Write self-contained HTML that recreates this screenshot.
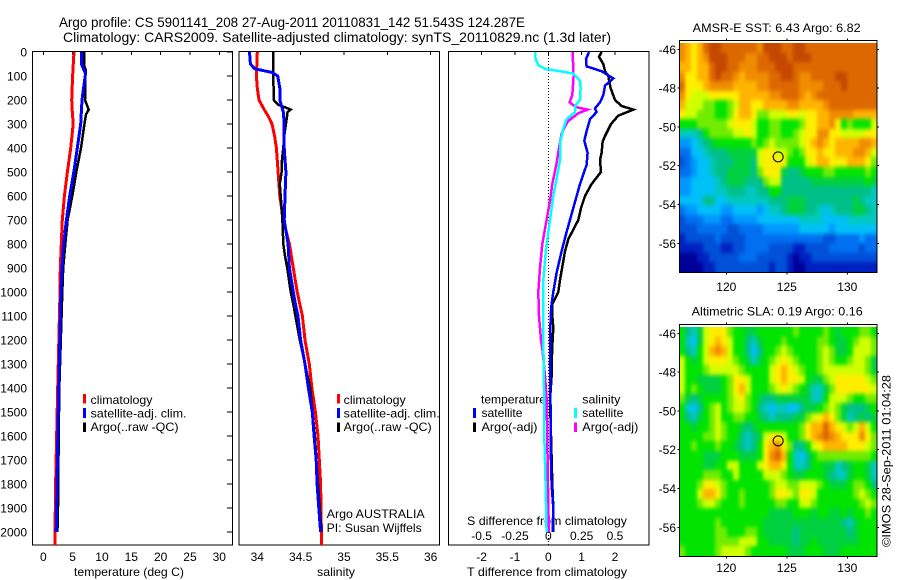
<!DOCTYPE html>
<html>
<head>
<meta charset="utf-8">
<title>Argo profile</title>
<style>
html,body{margin:0;padding:0;background:#fff}
svg{display:block}
text{font-family:"Liberation Sans",sans-serif;font-size:12px;fill:#000}
</style>
</head>
<body>
<svg id="chart" xmlns="http://www.w3.org/2000/svg" width="900" height="580" viewBox="0 0 900 580">
<defs>
<filter id="mapBlur" filterUnits="userSpaceOnUse" x="650" y="0" width="250" height="580" color-interpolation-filters="sRGB">
<feGaussianBlur stdDeviation="1.7 2"/>
</filter>
</defs>
<rect width="900" height="580" fill="#fff"/>
<text x="59" y="27" style="font-size:14px" textLength="466" lengthAdjust="spacingAndGlyphs">Argo profile: CS 5901141_208 27-Aug-2011 20110831_142 51.543S 124.287E</text>
<text x="63" y="42" style="font-size:14px" textLength="548" lengthAdjust="spacingAndGlyphs">Climatology: CARS2009. Satellite-adjusted climatology: synTS_20110829.nc (1.3d later)</text>

<text x="74" y="576" textLength="110" lengthAdjust="spacingAndGlyphs">temperature (deg C)</text>
<text x="317" y="576" textLength="38" lengthAdjust="spacingAndGlyphs">salinity</text>
<text x="467" y="576" textLength="160" lengthAdjust="spacingAndGlyphs">T difference from climatology</text>
<text x="467" y="525" textLength="160" lengthAdjust="spacingAndGlyphs">S difference from climatology</text>

<g>
<rect x="83" y="394" width="3" height="9.5" fill="#f00"/>
<rect x="83" y="408" width="3" height="10" fill="#00f"/>
<rect x="83" y="422.5" width="3" height="9.5" fill="#000"/>
<text x="90.5" y="404" textLength="62" lengthAdjust="spacingAndGlyphs">climatology</text>
<text x="90.5" y="417.5" textLength="96" lengthAdjust="spacingAndGlyphs">satellite-adj. clim.</text>
<text x="90.5" y="431" textLength="88" lengthAdjust="spacingAndGlyphs">Argo(..raw -QC)</text>
</g>
<g>
<rect x="337" y="394" width="3" height="9.5" fill="#f00"/>
<rect x="337" y="408" width="3" height="10" fill="#00f"/>
<rect x="337" y="422.5" width="3" height="9.5" fill="#000"/>
<text x="343.7" y="404" textLength="62" lengthAdjust="spacingAndGlyphs">climatology</text>
<text x="343.7" y="417.5" textLength="96" lengthAdjust="spacingAndGlyphs">satellite-adj. clim.</text>
<text x="343.7" y="431" textLength="88" lengthAdjust="spacingAndGlyphs">Argo(..raw -QC)</text>
</g>
<text x="326.7" y="518" textLength="98" lengthAdjust="spacingAndGlyphs">Argo AUSTRALIA</text>
<text x="326.7" y="532" textLength="95" lengthAdjust="spacingAndGlyphs">PI: Susan Wijffels</text>

<g>
<text x="481" y="403.5" textLength="65" lengthAdjust="spacingAndGlyphs">temperature</text>
<rect x="473" y="408" width="3" height="10" fill="#00f"/>
<text x="481.5" y="417" textLength="41" lengthAdjust="spacingAndGlyphs">satellite</text>
<rect x="473" y="422.5" width="3" height="9.5" fill="#000"/>
<text x="481.5" y="431" textLength="56" lengthAdjust="spacingAndGlyphs">Argo(-adj)</text>
<text x="582.3" y="403.5" textLength="38" lengthAdjust="spacingAndGlyphs">salinity</text>
<rect x="574" y="408" width="3" height="10" fill="#0ff"/>
<text x="582.3" y="417" textLength="41" lengthAdjust="spacingAndGlyphs">satellite</text>
<rect x="574" y="422.5" width="3" height="9.5" fill="#f0f"/>
<text x="582.3" y="431" textLength="56" lengthAdjust="spacingAndGlyphs">Argo(-adj)</text>
</g>

<text x="692.7" y="32" textLength="168" lengthAdjust="spacingAndGlyphs">AMSR-E SST: 6.43 Argo: 6.82</text>
<text x="691.7" y="315.5" textLength="171" lengthAdjust="spacingAndGlyphs">Altimetric SLA: 0.19 Argo: 0.16</text>
<text transform="translate(890.5,547) rotate(-90)" textLength="172" lengthAdjust="spacingAndGlyphs">©IMOS 28-Sep-2011 01:04:28</text>
</svg>

<script>
// ---------- Profile data ----------
const depthTicks = [0,100,200,300,400,500,600,700,800,900,1000,1100,1200,1300,1400,1500,1600,1700,1800,1900,2000];
const tempTicks = [0,5,10,15,20,25,30];
const salTicks = [34,34.5,35,35.5,36];
const salTickLabels = ['34','34.5','35','35.5','36'];
const tDiffTicks = [-2,-1,0,1,2];
const tDiffTickLabels = ['-2','-1','0','1','2'];
const sDiffTicks = [-0.5,-0.25,0,0.25,0.5];
const sDiffTickLabels = ['-0.5','-0.25','0','0.25','0.5'];

const tempClimDepth = [0,100,200,250,300,400,500,600,700,800,900,1000,1400,1800,2000,2054];
const tempClimValue = [5.23,5.0,4.84,4.95,5.1,4.67,4.1,3.6,3.24,3.07,2.9,2.85,2.45,2.1,2.0,2.0];
const tempArgoDepth = [0,60,75,100,200,240,260,300,400,500,600,700,800,900,1000,1400,1600,1900,2000];
const tempArgoValue = [7.0,7.0,7.25,7.17,7.1,7.73,7.28,7.0,6.43,5.63,4.95,4.15,3.75,3.4,3.24,2.73,2.62,2.5,2.4];
const tempSatDepth = [0,50,90,100,200,300,400,500,600,700,800,900,1000,1400,1700,2000];
const tempSatValue = [6.5,6.5,7.2,7.15,6.6,6.37,5.8,5.2,4.5,3.93,3.47,3.19,3.0,2.62,2.4,2.2];

const salClimDepth = [0,100,150,200,240,270,300,350,400,500,600,700,800,900,1000,1050,1100,1200,1300,1400,1500,1600,1700,1800,1900,2000,2054];
const salClimValue = [34.0,33.99,34.0,34.02,34.08,34.13,34.17,34.2,34.22,34.24,34.26,34.3,34.37,34.415,34.46,34.49,34.52,34.55,34.6,34.63,34.67,34.7,34.715,34.73,34.735,34.74,34.74];
const salArgoDepth = [0,100,200,220,230,240,250,300,350,400,450,500,550,600,700,800,850,900,1000,1050,1100,1200,1300,1400,1600,1800,2000];
const salArgoValue = [34.185,34.185,34.19,34.24,34.32,34.385,34.35,34.33,34.31,34.3,34.285,34.28,34.26,34.27,34.29,34.3,34.32,34.345,34.385,34.415,34.44,34.49,34.55,34.61,34.665,34.7,34.74];
const salSatDepth = [0,50,70,85,100,150,200,250,300,400,500,600,700,800,900,1000,1050,1100,1200,1300,1400,1500,1600,1700,1800,1900,2000];
const salSatValue = [33.91,33.92,33.97,34.17,34.235,34.26,34.26,34.3,34.31,34.31,34.33,34.32,34.31,34.355,34.37,34.415,34.44,34.47,34.5,34.55,34.59,34.635,34.655,34.68,34.69,34.71,34.73];

const tDiffArgoDepth = [0,20,50,80,100,150,200,225,240,265,300,350,375,420,450,500,550,600,650,700,780,830,950,1000,1050,1100,1150,1200,1300,1350,1450,1600,1800,1900,2000];
const tDiffArgoValue = [1.6,1.52,1.65,1.7,1.8,1.87,2.0,2.2,2.55,2.1,1.88,1.7,1.63,1.6,1.55,1.58,1.3,1.1,0.98,0.9,0.6,0.5,0.35,0.3,0.12,0.12,0.15,0.13,0.1,0.1,0.05,0.08,0.12,0.15,0.15];
const tDiffSatDepth = [0,30,60,80,110,140,180,210,235,250,280,330,370,420,470,550,650,750,830,920,1000,1050,1100,1300,1500,1700,1800,1900,2000];
const tDiffSatValue = [1.22,1.13,1.15,1.6,1.95,1.7,1.65,1.55,1.4,1.45,1.25,1.15,1.08,1.18,1.15,0.95,0.75,0.55,0.4,0.25,0.15,0.1,0.07,0.05,0.07,0.08,0.1,0.15,0.13];
const sDiffArgoDepth = [0,100,180,210,230,240,255,290,340,400,470,550,620,700,800,900,1000,1100,1200,1250,1350,1450,1700,1900,2000];
const sDiffArgoValue = [0.1825,0.19,0.18,0.16,0.21,0.295,0.225,0.145,0.1,0.08,0.06,0.03,0.0125,-0.0125,-0.045,-0.0625,-0.075,-0.07,-0.055,-0.042,-0.025,-0.012,-0.005,0,0.005];
const sDiffSatDepth = [0,30,55,70,80,90,120,150,200,225,250,280,320,380,450,530,600,700,820,950,1000,1200,1400,1600,1800,2000];
const sDiffSatValue = [-0.1,-0.095,-0.075,-0.025,0.0875,0.1875,0.2375,0.2425,0.2375,0.2,0.2,0.1375,0.1125,0.0875,0.0875,0.0625,0.0375,0.0125,-0.0175,-0.0375,-0.0375,-0.0375,-0.0325,-0.03,-0.02,-0.0125];

// ---------- Map data (colour-scale levels, read by eye, north at top) ----------
const mapLonTicks = [120,125,130];
const mapLatTicks = [46,48,50,52,54,56];
const sstLevels = [
[14,13,12,13,15,16,16,15,15,15,15,15,15,14,16,16,16,15,15,16,16,15,15,15,15,15,15,15,15,15,15,15,15],
[14,13,12,13,14,16,16,16,15,15,15,14,14,15,15,16,16,16,15,16,16,16,15,15,15,15,15,15,15,15,15,15,15],
[13,13,12,13,13,15,16,16,15,15,14,14,14,15,15,15,16,16,16,15,15,15,15,15,15,15,15,15,15,15,15,15,15],
[14,12,12,13,13,15,16,15,15,14,13,14,14,14,14,15,15,16,16,15,14,14,15,15,15,15,16,16,15,15,15,15,15],
[15,12,12,12,13,14,14,14,14,13,13,13,13,14,14,15,15,15,15,15,14,14,14,14,15,15,15,16,15,15,15,15,15],
[14,12,11,11,11,12,12,12,12,12,13,13,13,13,13,14,14,15,15,15,14,13,14,15,15,15,15,15,15,15,15,15,15],
[13,11,11,11,10,10,9,9,10,11,13,13,12,12,13,13,13,13,14,14,13,13,13,13,14,15,15,15,15,15,15,15,15],
[12,11,11,10,10,10,9,9,10,12,13,13,12,10,10,11,11,11,12,12,11,12,12,13,13,14,14,14,14,13,13,13,13],
[9,9,9,10,10,10,10,10,11,12,12,12,11,9,9,10,10,9,9,9,10,12,12,13,13,14,12,9,10,9,9,9,11],
[6,6,6,7,9,10,10,10,10,11,11,12,11,9,9,10,10,9,9,10,11,12,12,14,14,12,12,11,11,11,11,12,12],
[4,4,5,6,7,8,9,9,9,9,9,9,10,9,10,11,10,10,10,10,11,12,13,14,13,12,13,13,13,13,14,14,13],
[3,3,5,5,6,7,7,7,8,8,8,8,8,11,12,12,11,11,10,9,10,12,12,13,12,12,13,13,13,14,14,13,11],
[2,3,4,5,5,6,7,7,7,8,8,8,7,11,12,12,12,12,9,9,9,11,12,13,13,12,12,12,13,13,13,12,10],
[3,3,4,5,5,6,7,7,8,8,8,8,7,10,12,12,12,8,7,7,8,9,9,9,10,10,9,9,9,9,9,10,9],
[4,4,5,5,5,5,6,7,8,8,8,7,7,7,10,11,11,7,7,7,7,7,8,8,8,8,8,8,8,8,8,9,8],
[4,4,5,5,5,5,6,6,7,7,7,6,6,7,7,9,9,7,7,7,7,7,7,7,7,7,7,7,7,7,7,7,6],
[5,5,5,5,7,7,5,5,6,6,6,6,6,6,6,7,7,7,8,8,8,7,7,7,7,7,7,7,7,8,7,6,6],
[3,4,4,5,5,5,5,4,4,5,5,5,5,4,5,6,6,7,8,8,8,7,7,6,5,6,7,7,7,8,8,7,6],
[2,3,3,3,4,4,4,3,3,4,4,4,4,5,5,5,5,5,5,5,6,6,6,6,5,5,5,5,6,6,6,6,6],
[2,2,2,3,3,3,3,3,2,2,3,3,3,3,4,4,4,4,4,4,5,5,5,5,5,4,5,5,5,5,5,5,5],
[1,2,2,2,2,2,3,2,2,2,2,3,3,3,3,3,3,3,3,3,3,3,3,3,2,2,3,3,3,3,4,3,3],
[1,1,1,1,2,2,2,1,1,2,2,3,3,3,3,2,2,2,2,1,1,2,2,2,2,3,3,3,3,3,2,3,3],
[0,0,0,1,1,2,2,2,2,2,3,3,3,2,2,2,2,2,1,0,1,1,2,2,2,2,2,2,2,2,2,2,2],
[0,0,0,0,1,1,2,2,2,2,2,2,2,2,2,1,2,2,1,0,0,1,1,1,1,1,1,1,1,1,1,1,1]
];
const slaLevels = [
[9,7,6,8,11,12,12,12,10,9,9,8,8,9,9,9,9,9,9,10,9,9,9,9,10,9,8,9,9,9,10,10,9],
[9,6,5,8,11,12,13,12,11,9,9,7,6,8,9,9,9,10,9,9,9,9,9,10,10,9,8,8,9,10,11,11,10],
[9,7,6,9,11,13,14,13,11,9,9,7,5,7,9,9,10,11,10,9,9,9,9,10,11,10,8,8,9,11,11,11,10],
[11,9,8,9,11,12,12,12,11,10,9,8,6,8,9,10,11,12,11,10,9,9,9,10,11,10,9,9,10,11,11,10,8],
[11,9,9,9,10,11,11,11,11,11,10,9,9,9,9,11,12,13,12,11,10,9,9,10,11,11,11,11,11,11,11,10,8],
[11,9,9,8,8,8,8,9,10,12,12,11,9,9,9,11,12,13,12,12,11,9,8,8,10,11,12,12,12,12,12,11,10],
[11,9,10,9,8,8,8,9,10,12,13,11,9,9,9,10,11,12,11,10,9,8,6,6,8,10,12,12,12,12,12,12,11],
[10,8,7,8,9,9,9,9,10,11,12,10,9,8,7,7,8,8,8,8,8,8,6,6,9,11,11,11,10,9,9,10,10],
[9,6,5,7,9,10,11,9,10,11,11,10,9,7,6,5,6,6,5,5,7,8,8,9,10,11,10,8,7,7,7,8,9],
[9,7,6,8,9,10,11,9,9,10,10,9,9,8,7,6,7,7,7,8,8,10,11,12,13,12,10,8,6,7,8,7,8],
[9,9,8,9,9,10,11,10,9,9,8,7,8,9,9,9,9,9,9,9,10,12,13,13,15,13,12,11,10,11,13,11,9],
[9,9,9,9,10,10,11,10,9,9,7,6,7,8,11,12,12,11,9,9,10,12,13,14,15,14,13,12,12,12,14,12,10],
[9,9,10,9,9,9,10,9,9,8,7,6,7,9,12,13,14,12,10,7,7,9,11,12,13,13,13,13,12,12,12,11,10],
[9,9,9,9,8,8,8,9,9,9,8,8,8,9,12,14,15,13,9,6,5,7,9,10,10,10,10,10,10,10,10,10,9],
[9,9,9,9,8,8,9,9,11,11,9,9,9,11,12,13,13,12,9,6,6,7,9,9,8,8,6,7,8,9,9,8,6],
[9,9,9,9,10,10,10,9,9,11,9,9,9,9,11,11,11,10,9,8,8,9,9,9,8,7,6,6,8,9,9,8,6],
[9,9,9,10,12,12,11,10,9,9,9,9,9,9,9,10,11,11,10,10,11,11,11,10,9,8,8,8,9,10,10,9,7],
[9,9,9,11,13,13,12,10,9,9,10,9,9,9,9,10,12,12,11,10,12,12,11,9,9,9,9,9,9,10,11,10,9],
[9,9,9,10,11,11,10,9,9,9,10,9,9,9,9,9,10,10,9,9,11,11,10,9,9,9,9,9,9,9,10,11,10],
[9,9,9,9,9,9,9,9,9,9,9,9,9,9,9,8,8,8,8,9,9,9,8,9,9,8,8,9,8,9,9,10,9],
[9,9,9,9,9,9,10,9,9,9,9,9,9,9,8,8,8,8,8,8,8,8,8,8,8,8,8,7,6,8,9,9,9],
[9,9,9,9,9,9,10,10,9,9,9,10,10,9,8,8,8,8,8,7,8,8,8,8,8,8,8,8,7,8,9,9,9],
[9,9,9,9,9,9,10,10,10,10,11,11,11,9,9,8,8,8,8,7,8,8,9,8,8,8,8,8,8,8,9,9,9],
[10,9,9,9,9,9,10,11,11,11,11,10,9,9,9,9,9,9,8,8,8,9,9,9,8,8,8,9,9,9,9,9,9]
];
const floatLon = 124.287;
const floatLat = 51.543;

// ---------- Scales ----------
const levelColors = ['#000098','#0020c0','#0050d8','#0070f0','#0098ff','#00c0f8','#00c8c0','#00c088','#00d040','#00e400','#70ec00','#d0ff00','#ffee00','#ffb400','#f08c00','#de6800','#c44800'];
const NS = 'http://www.w3.org/2000/svg';
const svg = document.getElementById('chart');
const yD = d => 52 + 0.24 * d;
const xTemp = v => 43.3 + 5.867 * v;
const xSal = v => 257.3 + 86.67 * (v - 34);
const xTD = v => 548.3 + 33.33 * v;
const xSD = v => 548.3 + 133.3 * v;
const xLon = v => 726.3 + 12.1 * (v - 120);

function mk(tag, attrs, parent) {
  const e = document.createElementNS(NS, tag);
  for (const k in attrs) e.setAttribute(k, attrs[k]);
  (parent || svg).appendChild(e);
  return e;
}
function addText(parent, str, x, y, anchor) {
  const t = mk('text', {x: x, y: y, 'text-anchor': anchor || 'middle'}, parent);
  t.textContent = str;
  return t;
}

// ---------- Profile panels ----------
function drawPanel(name, left, right, ticks, xf) {
  const g = mk('g', {});
  
  
  const frame = mk('rect', {x: left, y: 51.5, width: right - left, height: 493.5, fill: 'none', stroke: '#000', 'stroke-width': 1, 'shape-rendering': 'crispEdges'}, g);
  
  
  ticks.forEach(v => {
    const t = mk('line', {x1: xf(v), x2: xf(v), y1: 52, y2: 55, stroke: '#000', 'shape-rendering': 'crispEdges'}, g);
    
    
  });
  return g;
}
function drawLine(g, name, depths, values, xf, color, width) {
  const pts = depths.map((d, i) => xf(values[i]).toFixed(1) + ',' + yD(d).toFixed(1)).join(' ');
  const l = mk('polyline', {points: pts, fill: 'none', stroke: color, 'stroke-width': width, 'stroke-linejoin': 'miter', 'shape-rendering': 'crispEdges'}, g);
  
  
}

const p1 = drawPanel('temperature', 32.5, 232.5, tempTicks, xTemp);
depthTicks.forEach(d => {
  const lab = addText(p1, String(d), 27, yD(d) + 4.5, 'end');
  
  
  const t = mk('line', {x1: 227, x2: 232, y1: yD(d), y2: yD(d), stroke: '#000', 'shape-rendering': 'crispEdges'}, p1);
  
  
});
tempTicks.forEach(v => {
  const lab = addText(p1, String(v), xTemp(v), 561);
  
  
});
drawLine(p1, 'temperature-climatology-line', tempClimDepth, tempClimValue, xTemp, '#f00', 3);
drawLine(p1, 'temperature-argo-line', tempArgoDepth, tempArgoValue, xTemp, '#000', 2.5);
drawLine(p1, 'temperature-satellite-line', tempSatDepth, tempSatValue, xTemp, '#00f', 3);

const p2 = drawPanel('salinity', 239, 439.5, salTicks, xSal);
salTicks.forEach((v, i) => {
  const lab = addText(p2, salTickLabels[i], xSal(v), 561);
  
  
});
drawLine(p2, 'salinity-climatology-line', salClimDepth, salClimValue, xSal, '#f00', 3);
drawLine(p2, 'salinity-argo-line', salArgoDepth, salArgoValue, xSal, '#000', 2.5);
drawLine(p2, 'salinity-satellite-line', salSatDepth, salSatValue, xSal, '#00f', 3);

const p3 = drawPanel('difference', 448.5, 649, tDiffTicks, xTD);
tDiffTicks.forEach((v, i) => {
  const lab = addText(p3, tDiffTickLabels[i], xTD(v), 561);
  
  
});
sDiffTicks.forEach((v, i) => {
  const lab = addText(p3, sDiffTickLabels[i], xSD(v), 540);
  
  
});
const zero = mk('line', {x1: xTD(0), x2: xTD(0), y1: 52, y2: 545, stroke: '#000', 'stroke-width': 1, 'stroke-dasharray': '1 2', 'shape-rendering': 'crispEdges'}, p3);


drawLine(p3, 't-difference-argo-line', tDiffArgoDepth, tDiffArgoValue, xTD, '#000', 2.5);
drawLine(p3, 't-difference-satellite-line', tDiffSatDepth, tDiffSatValue, xTD, '#00f', 2.5);
drawLine(p3, 's-difference-argo-line', sDiffArgoDepth, sDiffArgoValue, xSD, '#f0f', 2.5);
drawLine(p3, 's-difference-satellite-line', sDiffSatDepth, sDiffSatValue, xSD, '#0ff', 2.5);

// ---------- Maps ----------
function drawMap(name, levels, frameTop, frameBottom, y46, labelY) {
  const yLat = v => y46 + 19.4 * (v - 46);
  const g = mk('g', {});
  
  
  const lon0 = 116.13, dLon = 0.494;
  const lat0 = 46 + (frameTop + 2.5 - y46) / 19.4, dLat = 11.8 / levels.length;

  const defs = svg.querySelector('defs');
  const clip = mk('clipPath', {id: name + 'Clip'}, defs);
  const clipRect = mk('rect', {x: 679.5, y: frameTop + 2.5, width: 197.5, height: frameBottom - frameTop - 2.5}, clip);
  
  
  const clipGroup = mk('g', {'clip-path': 'url(#' + name + 'Clip)'}, g);
  
  
  const cells = mk('g', {filter: 'url(#mapBlur)'}, clipGroup);
  
  

  levels.forEach((row, r) => {
    row.forEach((v, c) => {
      let x0 = Math.round(xLon(lon0 + c * dLon)), x1 = Math.round(xLon(lon0 + (c + 1) * dLon));
      let y0 = Math.round(yLat(lat0 + r * dLat)), y1 = Math.round(yLat(lat0 + (r + 1) * dLat));
      // outer cells extend past the clip so smoothing does not fade at the edge
      if (c === 0) x0 -= 14;
      if (c === row.length - 1) x1 += 14;
      if (r === 0) y0 -= 14;
      if (r === levels.length - 1) y1 += 14;
      const cell = mk('rect', {x: x0, y: y0, width: x1 - x0, height: y1 - y0, fill: levelColors[v], 'shape-rendering': 'crispEdges'}, cells);
      
      
    });
  });
  const frame = mk('rect', {x: 679.5, y: frameTop, width: 197.5, height: frameBottom - frameTop, fill: 'none', stroke: '#000', 'shape-rendering': 'crispEdges'}, g);
  
  
  mapLonTicks.forEach(v => {
    [[frameTop - 2, frameTop], [frameBottom, frameBottom + 2]].forEach(p => {
      const t = mk('line', {x1: xLon(v), x2: xLon(v), y1: p[0], y2: p[1], stroke: '#000', 'shape-rendering': 'crispEdges'}, g);
      
      
    });
    const lab = addText(g, String(v), xLon(v), labelY);
    
    
  });
  mapLatTicks.forEach(v => {
    [[677.5, 679.5], [877, 879]].forEach(p => {
      const t = mk('line', {x1: p[0], x2: p[1], y1: yLat(v), y2: yLat(v), stroke: '#000', 'shape-rendering': 'crispEdges'}, g);
      
      
    });
    const lab = addText(g, '-' + v, 676, yLat(v) + 4.5, 'end');
    
    
  });
  const marker = mk('circle', {cx: xLon(floatLon), cy: yLat(floatLat), r: 5, fill: 'none', stroke: '#000', 'stroke-width': 1}, g);
  
  
}
drawMap('sst', sstLevels, 40.5, 272.5, 49.3, 291);
drawMap('sla', slaLevels, 324.5, 556.5, 333.3, 572);
</script>
</body>
</html>
